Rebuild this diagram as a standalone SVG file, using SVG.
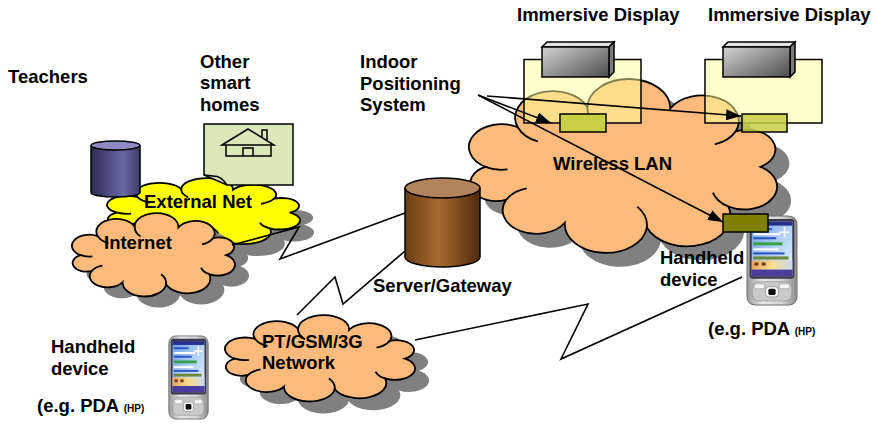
<svg xmlns="http://www.w3.org/2000/svg" xmlns:xlink="http://www.w3.org/1999/xlink" width="876" height="426" viewBox="0 0 876 426">
  <style>
    .t { font-family: "Liberation Sans", Arial, sans-serif; font-weight: bold; font-size: 18.5px; fill: #000; }
    .small { font-size: 10px; }
    .shadow { fill: #808080; stroke: none; }
    .orange { fill: #fcbb7c; stroke: #000; stroke-width: 1.8; }
    .yellow { fill: #ffff00; stroke: #000; stroke-width: 1.8; }
    .crease { fill: none; stroke: #000; stroke-width: 1.8; }
    .wire { fill: none; stroke: #000; stroke-width: 1.6; stroke-linejoin: miter; }
    .arrow { fill: none; stroke: #000; stroke-width: 1.6; marker-end: url(#head); }
    .edge { stroke: #000; stroke-width: 1.5; }
    .display { fill: #ffff99; fill-opacity: 0.5; stroke: #000; stroke-width: 1.5; }
    .sensor { fill: #c8cf45; stroke: #000; stroke-width: 1.5; }
  </style>
  <defs>
    <!-- cloud outline: ten semicircular bumps between points on an ellipse -->
    <path id="cloud" vector-effect="non-scaling-stroke"
      d="M22,72 A18.45,18.45 0 0 1 40.3,39.9 A21.35,21.35 0 0 1 79.8,23.7 A23.45,23.45 0 0 1 126.7,25 A20.75,20.75 0 0 1 163.9,43.3 A16,16 0 0 1 178,72 A18.45,18.45 0 0 1 159.7,104.1 A24.65,24.65 0 0 1 113.5,121.2 A23.35,23.35 0 0 1 67,117.3 A19.05,19.05 0 0 1 33.9,98.5 A14.5,14.5 0 0 1 22,72 Z"/>
    <!-- inner creases where neighbouring bumps overlap -->
    <path id="creases" vector-effect="non-scaling-stroke"
      d="M40.3,39.9 A21.35,21.35 0 0 0 51.8,51.5 M79.8,23.7 A23.45,23.45 0 0 0 86.2,40.5 M163.9,43.3 A20.75,20.75 0 0 1 152,53.8 M159.7,104.1 A18.45,18.45 0 0 1 151,92.9 M113.5,121.2 A23.35,23.35 0 0 0 108.1,104.2 M33.9,98.5 A19.05,19.05 0 0 1 45.4,89.5 M22,72 A18.45,18.45 0 0 0 34.5,74.1"/>

    <marker id="head" viewBox="0 0 15 11" refX="15" refY="5.5" markerWidth="15" markerHeight="11" markerUnits="userSpaceOnUse" orient="auto">
      <path d="M0,0 L15,5.5 L0,11 Z" fill="#000"/>
    </marker>

    <linearGradient id="navy" x1="0" y1="0" x2="1" y2="0">
      <stop offset="0" stop-color="#2c2c52"/>
      <stop offset="0.65" stop-color="#6868a6"/>
      <stop offset="1" stop-color="#3c3c6a"/>
    </linearGradient>
    <linearGradient id="brown" x1="0" y1="0" x2="1" y2="0">
      <stop offset="0" stop-color="#6a3c12"/>
      <stop offset="0.45" stop-color="#a86a30"/>
      <stop offset="1" stop-color="#4e2a0c"/>
    </linearGradient>
    <linearGradient id="steel" x1="0" y1="0.2" x2="1" y2="1">
      <stop offset="0" stop-color="#c8c8c8"/>
      <stop offset="1" stop-color="#4c4c4c"/>
    </linearGradient>
    <linearGradient id="silver" x1="0" y1="0" x2="1" y2="0">
      <stop offset="0" stop-color="#9a9a9a"/>
      <stop offset="0.3" stop-color="#e6e6e6"/>
      <stop offset="0.7" stop-color="#d4d4d4"/>
      <stop offset="1" stop-color="#8c8c8c"/>
    </linearGradient>
    <linearGradient id="scr" x1="0" y1="0" x2="1" y2="1">
      <stop offset="0" stop-color="#6f9fe6"/>
      <stop offset="0.6" stop-color="#bcd8f6"/>
      <stop offset="1" stop-color="#e8f2ff"/>
    </linearGradient>
    <linearGradient id="band" x1="0" y1="0" x2="1" y2="0">
      <stop offset="0" stop-color="#e8a860"/>
      <stop offset="0.5" stop-color="#f6dc8c"/>
      <stop offset="1" stop-color="#c8d8f0"/>
    </linearGradient>

    <!-- handheld PDA -->
    <symbol id="pda" viewBox="0 0 50 90" preserveAspectRatio="none">
      <rect x="1" y="1" width="48" height="88" rx="8" fill="url(#silver)" stroke="#6e6e6e" stroke-width="1"/>
      <rect x="3.5" y="4" width="43" height="59" rx="3" fill="#3a3a4a"/>
      <rect x="5.5" y="6.5" width="39" height="54" fill="url(#scr)"/>
      <rect x="5.5" y="6.5" width="39" height="4" fill="#22308e"/>
      <rect x="7" y="13" width="18" height="2" fill="#2a55c0"/>
      <rect x="7" y="18" width="26" height="2" fill="#ffffff"/>
      <rect x="7" y="22" width="22" height="2" fill="#2a55c0"/>
      <rect x="7" y="27" width="28" height="3" fill="#3aa04a"/>
      <rect x="7" y="33" width="24" height="2" fill="#ffffff"/>
      <rect x="7" y="37" width="30" height="2" fill="#2a55c0"/>
      <rect x="7" y="41" width="34" height="3" fill="#6a8a3a"/>
      <path d="M37,12 v10 M32,17 h10" stroke="#ffffff" stroke-width="1.5"/>
      <rect x="5.5" y="45" width="39" height="9" fill="url(#band)"/>
      <rect x="8" y="47" width="4" height="3" fill="#7a3a20"/>
      <rect x="15" y="47" width="4" height="3" fill="#7a3a20"/>
      <rect x="5.5" y="54" width="39" height="6.5" fill="#4b3c9e"/>
      <rect x="6" y="66" width="38" height="19" rx="6" fill="#c9c9c9" stroke="#8a8a8a" stroke-width="0.6"/>
      <rect x="8" y="68" width="10" height="5" rx="2" fill="#f2f2f2" stroke="#999" stroke-width="0.6"/>
      <rect x="32" y="68" width="10" height="5" rx="2" fill="#f2f2f2" stroke="#999" stroke-width="0.6"/>
      <rect x="19" y="71" width="12" height="10" rx="3" fill="#ffffff" stroke="#777" stroke-width="0.6"/>
      <rect x="21.5" y="73" width="7" height="6" rx="1.5" fill="#111"/>
    </symbol>
  </defs>

  <!-- Wireless LAN cloud -->
  <g id="wireless-lan">
    <g transform="translate(460.6,91.9) scale(1.764,1.235)"><use xlink:href="#cloud" class="shadow"/></g>
    <g transform="translate(446.6,77.9) scale(1.764,1.235)">
      <use xlink:href="#cloud" class="orange"/>
      <use xlink:href="#creases" class="crease"/>
    </g>
    <text class="t" x="553" y="170">Wireless LAN</text>
  </g>

  <!-- Immersive displays with projectors and positioning tags -->
  <g id="display-1">
    <rect class="display" x="524" y="59.5" width="117" height="63.5"/>
    <path d="M542,47 L547,42 L614,42 L609,47 Z" fill="#e2e2e2" class="edge"/>
    <path d="M609,47 L614,42 L614,72 L609,77 Z" fill="#7c7c7c" class="edge"/>
    <rect x="542" y="47" width="67" height="30" fill="url(#steel)" class="edge"/>
    <rect class="sensor" x="560" y="114" width="46" height="18"/>
    <text class="t" x="517" y="21">Immersive Display</text>
  </g>
  <g id="display-2">
    <rect class="display" x="705" y="59.5" width="117" height="63.5"/>
    <path d="M723,47 L728,42 L795,42 L790,47 Z" fill="#e2e2e2" class="edge"/>
    <path d="M790,47 L795,42 L795,72 L790,77 Z" fill="#7c7c7c" class="edge"/>
    <rect x="723" y="47" width="67" height="30" fill="url(#steel)" class="edge"/>
    <rect class="sensor" x="742" y="114" width="45" height="18" fill-opacity="0.85"/>
    <text class="t" x="708" y="21">Immersive Display</text>
  </g>

  <!-- External Net cloud -->
  <g id="external-net">
    <g transform="translate(107,189.6) scale(1.1054,0.4869)"><use xlink:href="#cloud" class="shadow"/></g>
    <g transform="translate(93,177.6) scale(1.1054,0.4869)">
      <use xlink:href="#cloud" class="yellow"/>
      <use xlink:href="#creases" class="crease"/>
    </g>
    <text class="t" x="144" y="208">External Net</text>
  </g>

  <!-- Internet cloud -->
  <g id="internet">
    <g transform="translate(74.1,223.5) scale(0.9336,0.5928)"><use xlink:href="#cloud" class="shadow"/></g>
    <g transform="translate(60.1,212.5) scale(0.9336,0.5928)">
      <use xlink:href="#cloud" class="orange"/>
      <use xlink:href="#creases" class="crease"/>
    </g>
    <text class="t" x="104" y="249">Internet</text>
  </g>

  <!-- PT/GSM/3G cloud -->
  <g id="pt-gsm-network">
    <g transform="translate(225.2,326.5) scale(1.0882,0.614)"><use xlink:href="#cloud" class="shadow"/></g>
    <g transform="translate(211.2,314.5) scale(1.0882,0.614)">
      <use xlink:href="#cloud" class="orange"/>
      <use xlink:href="#creases" class="crease"/>
    </g>
    <text class="t" x="262" y="348">PT/GSM/3G</text>
    <text class="t" x="262" y="369">Network</text>
  </g>

  <!-- Teachers database -->
  <g id="teachers">
    <path d="M91,145.5 V192.5 A24.5,4.5 0 0 0 140,192.5 V145.5" fill="url(#navy)" class="edge"/>
    <ellipse cx="115.5" cy="145.5" rx="24.5" ry="4.5" fill="#8c8cc2" class="edge"/>
    <text class="t" x="8" y="83">Teachers</text>
  </g>

  <!-- Other smart homes -->
  <g id="smart-homes">
    <path d="M204,124 H293 V185 H227 L204,175 Z" fill="#d8e8b8" class="edge"/>
    <path d="M204,175 L217,176.5 Q223,178.5 227,185" fill="none" class="edge"/>
    <path d="M222,145 L248,129 L274,145 Z M262,137.6 V130 H267 V140.7 M226,145 V156 H271 V145 M243,156 V148 H253 V156" fill="none" stroke="#000" stroke-width="1.5"/>
    <text class="t" x="200" y="68">Other</text>
    <text class="t" x="200" y="89">smart</text>
    <text class="t" x="200" y="111">homes</text>
  </g>

  <!-- connectors -->
  <g id="connectors">
    <polyline class="wire" points="232,245 299,227 280,259 405,213"/>
    <polyline class="wire" points="405,251 343,304 335,277 297,315"/>
    <polyline class="wire" points="415,340 588,304 561,359 742,277"/>
    <line class="arrow" x1="478" y1="95" x2="551" y2="123"/>
    <line class="arrow" x1="487" y1="96" x2="741" y2="116"/>
    <line class="arrow" x1="478" y1="95" x2="723" y2="222"/>
  </g>

  <!-- Server / Gateway -->
  <g id="server">
    <path d="M405,188 V257 A37.5,10 0 0 0 480,257 V188" fill="url(#brown)" class="edge"/>
    <ellipse cx="442.5" cy="188" rx="37.5" ry="10" fill="#b1845c" class="edge"/>
    <text class="t" x="373" y="292">Server/Gateway</text>
  </g>

  <!-- Indoor positioning label -->
  <g id="indoor-positioning">
    <text class="t" x="360" y="68">Indoor</text>
    <text class="t" x="360" y="90">Positioning</text>
    <text class="t" x="360" y="111">System</text>
  </g>

  <!-- Handheld devices -->
  <g id="handheld-right">
    <use xlink:href="#pda" x="746" y="215" width="52" height="91"/>
    <rect x="723" y="214" width="45" height="18" fill="#808000" class="edge"/>
    <text class="t" x="660" y="264">Handheld</text>
    <text class="t" x="660" y="286">device</text>
    <text class="t" x="708" y="335">(e.g. PDA <tspan class="small">(HP)</tspan></text>
  </g>
  <g id="handheld-left">
    <use xlink:href="#pda" x="168" y="335" width="41" height="85"/>
    <text class="t" x="51" y="353">Handheld</text>
    <text class="t" x="51" y="375">device</text>
    <text class="t" x="37" y="412">(e.g. PDA <tspan class="small">(HP)</tspan></text>
  </g>
</svg>
